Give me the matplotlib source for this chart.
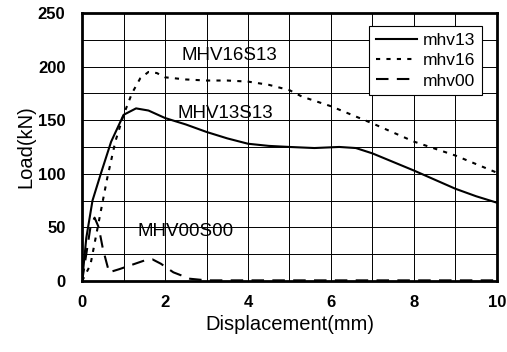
import numpy as np
import matplotlib.pyplot as plt

# load-displacement curves
mhv13_x = [0.0, 0.1, 0.25, 0.45, 0.7, 1.0, 1.3, 1.6, 2.0, 2.5, 3.0, 3.5, 4.0, 4.5, 5.0, 5.6, 6.2, 6.6, 7.0, 8.0, 9.0, 9.5, 10.0]
mhv13_y = [0.0, 40.0, 75.0, 100.0, 130.0, 155.0, 161.0, 159.0, 152.0, 146.0, 139.0, 133.0, 128.0, 126.0, 125.0, 124.0, 125.0, 124.0, 119.0, 103.0, 86.0, 79.0, 73.0]

mhv16_x = [0.0, 0.2, 0.4, 0.6, 0.8, 1.0, 1.2, 1.4, 1.6, 1.8, 2.0, 2.5, 3.0, 3.5, 4.0, 4.5, 5.0, 5.3, 6.0, 7.0, 8.0, 9.0, 10.0]
mhv16_y = [0.0, 15.0, 55.0, 95.0, 130.0, 155.0, 175.0, 189.0, 195.0, 194.0, 190.0, 188.0, 187.0, 187.0, 186.0, 183.0, 178.0, 172.0, 163.0, 147.0, 130.0, 117.0, 101.0]

mhv00_x = [0.0, 0.1, 0.2, 0.3, 0.4, 0.5, 0.65, 0.9, 1.2, 1.5, 1.7, 1.9, 2.2, 2.6, 3.0, 5.0, 10.0]
mhv00_y = [0.0, 25.0, 50.0, 59.0, 50.0, 30.0, 8.0, 11.0, 15.0, 19.0, 20.0, 16.0, 8.0, 2.0, 0.5, 0.5, 0.5]

labels = ['MHV16S13', 'MHV13S13', 'MHV00S00']
label_x = [3.55, 3.45, 2.5]
label_y = [210, 156, 46]

plt.rcParams['font.family'] = ['Liberation Sans', 'DejaVu Sans']

fig = plt.figure(figsize=(5.07, 3.52), dpi=100)
ax = fig.add_axes([0.162, 0.202, 0.818, 0.761])

ax.plot(mhv13_x, mhv13_y, color='black', lw=1.5, label='mhv13')
ax.plot(mhv16_x, mhv16_y, color='black', lw=1.5, ls=(0, (2, 3)), label='mhv16')
ax.plot(mhv00_x, mhv00_y, color='black', lw=1.5, ls=(0, (6, 4)), label='mhv00')

for t, tx, ty in zip(labels, label_x, label_y):
    ax.text(tx, ty, t, fontsize=13.5, ha='center', va='center')

ax.set_xlim(0, 10)
ax.set_ylim(0, 250)
ax.set_xticks(np.arange(0, 11, 2))
ax.set_yticks(np.arange(0, 251, 50))
ax.set_xticks(np.arange(0, 11, 1), minor=True)
ax.set_yticks(np.arange(0, 251, 25), minor=True)
ax.grid(True, which='both', color='black', lw=0.7)
ax.tick_params(which='both', length=0, labelsize=12)
ax.tick_params(axis='y', pad=12)
ax.tick_params(axis='x', pad=10)
for lbl in ax.get_xticklabels() + ax.get_yticklabels():
    lbl.set_fontweight('bold')
for s in ax.spines.values():
    s.set_linewidth(2)

ax.set_xlabel('Displacement(mm)', fontsize=14.5, labelpad=4)
ax.set_ylabel('Load(kN)', fontsize=14.5, labelpad=2)

leg = ax.legend(loc='upper right', fontsize=12.5, fancybox=False, framealpha=1,
                edgecolor='black', handlelength=2.4, borderpad=0.4, labelspacing=0.3,
                handletextpad=0.3, bbox_to_anchor=(0.985, 0.985))
leg.get_frame().set_linewidth(0.8)

fig.savefig('out.png', dpi=100)
